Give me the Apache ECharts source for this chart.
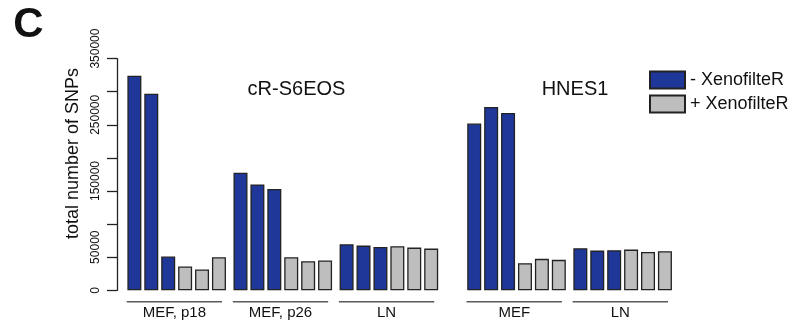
<!DOCTYPE html>
<html>
<head>
<meta charset="utf-8">
<script src="https://cdn.jsdelivr.net/npm/echarts@6/dist/echarts.min.js"></script>
<style>
  html, body { margin: 0; padding: 0; background: #ffffff; }
  #chart { width: 799px; height: 326px; }
</style>
</head>
<body>
<div id="chart"></div>
<script>
// Sample groups, left to right, and the cell line each belongs to
const groupNames = ['MEF, p18', 'MEF, p26', 'LN', 'MEF', 'LN'];
const groupCellLine = [0, 0, 0, 1, 1];
const cellLineNames = ['cR-S6EOS', 'HNES1'];

// Total SNP counts, three replicates per group
const withoutXenofilteR = [
  [324000, 297000, 51000],
  [177500, 160000, 153000],
  [69500, 67500, 65500],
  [252000, 277000, 268000],
  [63500, 60000, 60500]
];
const withXenofilteR = [
  [36000, 31500, 50000],
  [50000, 44000, 45000],
  [66500, 64500, 63000],
  [41000, 47500, 46000],
  [61500, 58000, 59000]
];

const seriesNames = ['- XenofilteR', '+ XenofilteR'];
const yTickLabels = [0, 50000, 150000, 250000, 350000];

// Layout in bar units (bar width 1, 0.1 space between bars)
const FONT = "'Liberation Sans', Arial, Helvetica, sans-serif";
const X_MAX = 37;
const BAR_STEP = 1.1;
const FIRST_LEFT = 0.63;
const GROUP_EXTRA = 0.3;
const CELL_LINE_EXTRA = 1.7;

const groupStart = [];
let cursor = FIRST_LEFT;
groupNames.forEach(function (_, g) {
  if (g > 0) {
    cursor += 6 * BAR_STEP + (groupCellLine[g] === groupCellLine[g - 1] ? GROUP_EXTRA : CELL_LINE_EXTRA);
  }
  groupStart.push(cursor);
});

function barCenter(g, slot) { return groupStart[g] + slot * BAR_STEP + 0.5; }

const blueData = [];
const greyData = [];
withoutXenofilteR.forEach(function (vals, g) {
  vals.forEach(function (v, i) { blueData.push([barCenter(g, i), v]); });
});
withXenofilteR.forEach(function (vals, g) {
  vals.forEach(function (v, i) { greyData.push([barCenter(g, i + 3), v]); });
});

const bracketData = groupNames.map(function (_, g) {
  return [groupStart[g], groupStart[g] + 5 * BAR_STEP + 1 - 0.3, 0];
});

const BLUE = '#1e3799';
const GREY = '#bebebe';
const EDGE = '#222222';

const chart = echarts.init(document.getElementById('chart'), null, { renderer: 'canvas' });

chart.setOption({
  animation: false,
  backgroundColor: '#ffffff',
  textStyle: { fontFamily: FONT },
  grid: { left: 117, top: 58.6, width: 569, height: 231.7, containLabel: false },
  legend: {
    data: seriesNames,
    orient: 'vertical',
    left: 649,
    top: 70.5,
    padding: 0,
    itemWidth: 35,
    itemHeight: 17,
    itemGap: 5,
    icon: 'rect',
    selectedMode: false,
    textStyle: { fontFamily: FONT, fontSize: 18, color: '#111111' }
  },
  xAxis: {
    type: 'value',
    min: 0,
    max: X_MAX,
    show: false
  },
  yAxis: {
    type: 'value',
    min: 0,
    max: 350000,
    interval: 50000,
    name: 'total number of SNPs',
    nameLocation: 'middle',
    nameRotate: 90,
    nameGap: 30,
    nameTextStyle: { fontFamily: FONT, fontSize: 18, color: '#111111', padding: [0, 0, 0, 42] },
    splitLine: { show: false },
    axisLine: { show: true, lineStyle: { color: EDGE, width: 1.3 } },
    axisTick: { show: true, inside: false, length: 10, lineStyle: { color: EDGE, width: 1.3 } },
    axisLabel: {
      rotate: 90,
      margin: 15,
      fontFamily: FONT,
      fontSize: 12,
      color: '#111111',
      formatter: function (v) {
        if (yTickLabels.indexOf(v) < 0) return '';
        return v === 0 ? '{z|0}' : '{n|' + v + '}';
      },
      rich: {
        z: { fontFamily: FONT, fontSize: 12, color: '#111111' },
        n: { fontFamily: FONT, fontSize: 12, color: '#111111', padding: [0, 0, 0, 20] }
      }
    }
  },
  series: [
    {
      name: seriesNames[0],
      type: 'bar',
      data: blueData,
      barWidth: 14,
      barGap: '-100%',
      itemStyle: { color: BLUE, borderColor: EDGE, borderWidth: 1.3 },
      silent: true
    },
    {
      name: seriesNames[1],
      type: 'bar',
      data: greyData,
      barWidth: 14,
      barGap: '-100%',
      itemStyle: { color: GREY, borderColor: EDGE, borderWidth: 1.3 },
      silent: true
    },
    {
      // group underlines with their sample labels
      type: 'custom',
      silent: true,
      clip: false,
      data: bracketData,
      encode: { x: [0, 1], y: 2 },
      renderItem: function (params, api) {
        const p0 = api.coord([api.value(0), 0]);
        const p1 = api.coord([api.value(1), 0]);
        const lineY = p0[1] + 11.4;
        return {
          type: 'group',
          children: [
            {
              type: 'line',
              shape: { x1: p0[0], y1: lineY, x2: p1[0], y2: lineY },
              style: { stroke: '#5a5a5a', lineWidth: 1.5 }
            },
            {
              type: 'text',
              style: {
                x: (p0[0] + p1[0]) / 2,
                y: p0[1] + 22.6,
                text: groupNames[params.dataIndex],
                fontFamily: FONT,
                fontSize: 15,
                fill: '#111111',
                align: 'center',
                verticalAlign: 'middle'
              }
            }
          ]
        };
      }
    }
  ],
  graphic: [
    {
      type: 'text',
      style: { x: 28.5, y: 25, text: 'C', fontFamily: FONT, fontSize: 42, fontWeight: 'bold',
               fill: '#111111', align: 'center', verticalAlign: 'middle' }
    },
    {
      type: 'text',
      style: { x: 296.5, y: 89.5, text: cellLineNames[0], fontFamily: FONT, fontSize: 20,
               fill: '#111111', align: 'center', verticalAlign: 'middle' }
    },
    {
      type: 'text',
      style: { x: 575, y: 89, text: cellLineNames[1], fontFamily: FONT, fontSize: 20,
               fill: '#111111', align: 'center', verticalAlign: 'middle' }
    }
  ]
});
</script>
</body>
</html>
